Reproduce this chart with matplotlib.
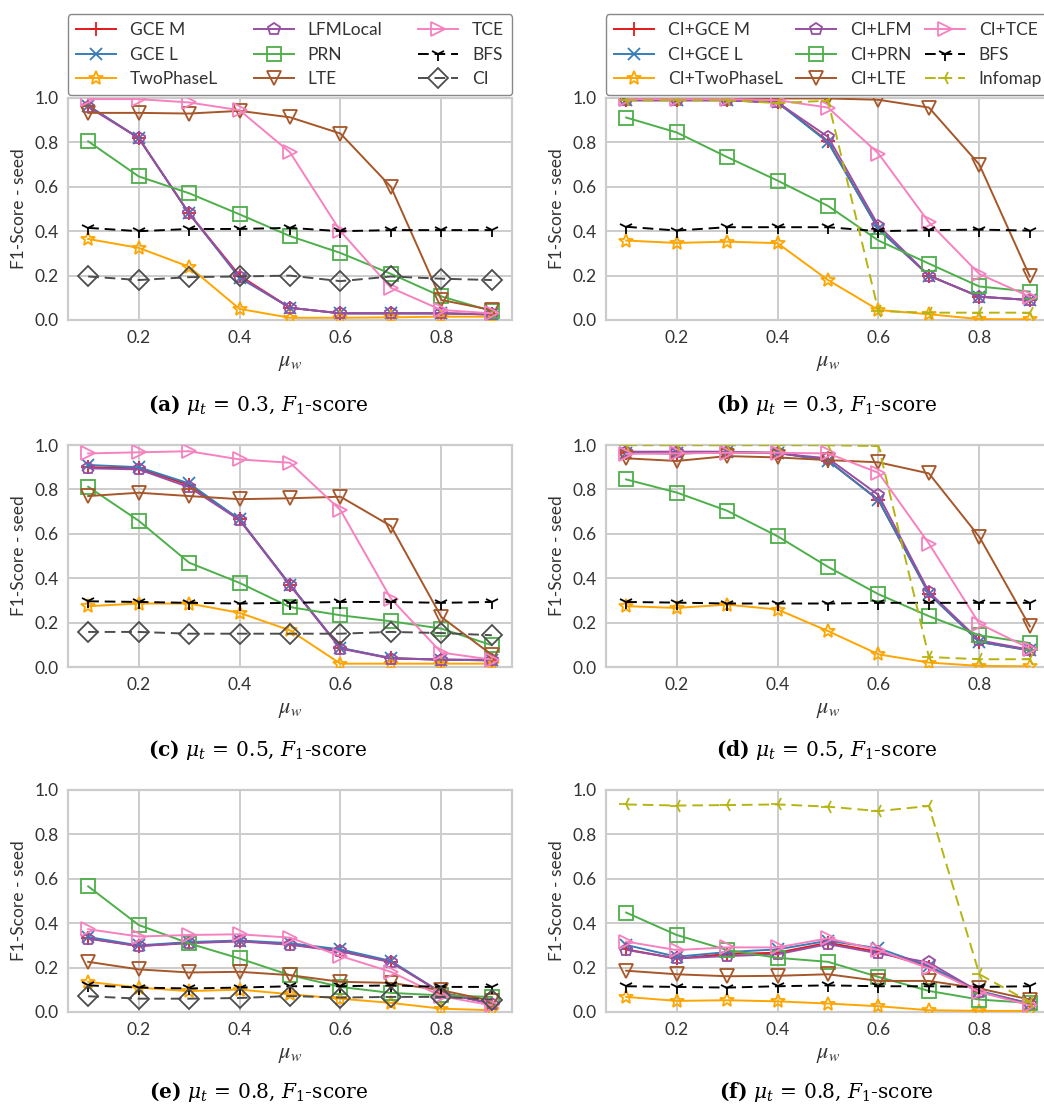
import matplotlib
matplotlib.use("Agg")
import matplotlib.pyplot as plt

plt.rcParams['font.family'] = ['Lato', 'DejaVu Sans']
plt.rcParams['mathtext.fontset'] = 'stix'

mu_w = [0.1, 0.2, 0.3, 0.4, 0.5, 0.6, 0.7, 0.8, 0.9]
x_ticks = [0.2, 0.4, 0.6, 0.8]
y_ticks = [0.0, 0.2, 0.4, 0.6, 0.8, 1.0]

labels_left = ["GCE M", "GCE L", "TwoPhaseL", "LFMLocal", "PRN", "LTE", "TCE", "BFS", "CI"]
labels_right = ["CI+GCE M", "CI+GCE L", "CI+TwoPhaseL", "CI+LFM", "CI+PRN", "CI+LTE", "CI+TCE", "BFS", "Infomap"]
captions = [r"$\mathbf{(a)}$ $\mu_t\,=\,0.3$, $F_1$-score", r"$\mathbf{(b)}$ $\mu_t\,=\,0.3$, $F_1$-score",
            r"$\mathbf{(c)}$ $\mu_t\,=\,0.5$, $F_1$-score", r"$\mathbf{(d)}$ $\mu_t\,=\,0.5$, $F_1$-score",
            r"$\mathbf{(e)}$ $\mu_t\,=\,0.8$, $F_1$-score", r"$\mathbf{(f)}$ $\mu_t\,=\,0.8$, $F_1$-score"]

# Panel (a)
a_gce_m = [0.965, 0.82, 0.48, 0.20, 0.055, 0.03, 0.03, 0.03, 0.025]
a_gce_l = [0.965, 0.82, 0.48, 0.19, 0.055, 0.03, 0.03, 0.03, 0.025]
a_lfm = [0.96, 0.82, 0.48, 0.195, 0.055, 0.03, 0.03, 0.03, 0.025]
a_two = [0.365, 0.325, 0.24, 0.05, 0.01, 0.01, 0.012, 0.015, 0.015]
a_prn = [0.805, 0.647, 0.571, 0.476, 0.378, 0.302, 0.208, 0.106, 0.04]
a_lte = [0.933, 0.933, 0.93, 0.942, 0.913, 0.84, 0.6, 0.09, 0.045]
a_tce = [0.995, 0.995, 0.98, 0.945, 0.755, 0.40, 0.145, 0.045, 0.03]
a_bfs = [0.415, 0.40, 0.41, 0.41, 0.415, 0.40, 0.405, 0.405, 0.405]
a_ci = [0.196, 0.18, 0.193, 0.196, 0.2, 0.175, 0.196, 0.186, 0.18]

# Panel (b)
b_gce_m = [0.99, 0.99, 0.99, 0.98, 0.805, 0.41, 0.2, 0.105, 0.09]
b_gce_l = [0.99, 0.99, 0.99, 0.98, 0.80, 0.41, 0.2, 0.105, 0.09]
b_lfm = [0.99, 0.99, 0.99, 0.98, 0.825, 0.425, 0.2, 0.105, 0.09]
b_two = [0.358, 0.347, 0.353, 0.346, 0.18, 0.045, 0.026, 0.004, 0.003]
b_prn = [0.912, 0.845, 0.734, 0.628, 0.514, 0.358, 0.254, 0.151, 0.128]
b_lte = [0.998, 0.998, 0.998, 0.998, 0.998, 0.992, 0.957, 0.70, 0.196]
b_tce = [0.995, 0.995, 0.995, 0.99, 0.957, 0.75, 0.44, 0.207, 0.105]
b_bfs = [0.42, 0.403, 0.418, 0.418, 0.418, 0.40, 0.405, 0.407, 0.403]
b_info = [0.99, 0.99, 0.99, 0.977, 0.988, 0.04, 0.033, 0.033, 0.033]

# Panel (c)
c_gce_m = [0.90, 0.895, 0.82, 0.665, 0.37, 0.085, 0.04, 0.033, 0.03]
c_gce_l = [0.91, 0.90, 0.827, 0.665, 0.371, 0.086, 0.04, 0.033, 0.03]
c_lfm = [0.895, 0.89, 0.81, 0.662, 0.368, 0.083, 0.038, 0.033, 0.033]
c_two = [0.274, 0.286, 0.286, 0.244, 0.165, 0.015, 0.015, 0.015, 0.015]
c_prn = [0.812, 0.659, 0.47, 0.379, 0.27, 0.233, 0.206, 0.173, 0.098]
c_lte = [0.77, 0.785, 0.77, 0.756, 0.76, 0.767, 0.635, 0.225, 0.055]
c_tce = [0.962, 0.967, 0.972, 0.935, 0.92, 0.707, 0.308, 0.065, 0.033]
c_bfs = [0.296, 0.293, 0.289, 0.286, 0.289, 0.293, 0.293, 0.289, 0.293]
c_ci = [0.158, 0.158, 0.15, 0.15, 0.15, 0.15, 0.158, 0.153, 0.143]

# Panel (d)
d_gce_m = [0.965, 0.962, 0.967, 0.965, 0.93, 0.752, 0.33, 0.113, 0.075]
d_gce_l = [0.965, 0.962, 0.967, 0.965, 0.93, 0.752, 0.33, 0.113, 0.075]
d_lfm = [0.97, 0.97, 0.97, 0.962, 0.94, 0.775, 0.338, 0.12, 0.078]
d_two = [0.274, 0.266, 0.281, 0.259, 0.162, 0.057, 0.02, 0.005, 0.003]
d_prn = [0.845, 0.786, 0.704, 0.589, 0.451, 0.328, 0.229, 0.143, 0.108]
d_lte = [0.94, 0.928, 0.95, 0.944, 0.932, 0.922, 0.872, 0.586, 0.183]
d_tce = [0.96, 0.962, 0.965, 0.965, 0.962, 0.875, 0.556, 0.195, 0.083]
d_bfs = [0.293, 0.29, 0.286, 0.286, 0.286, 0.289, 0.289, 0.289, 0.289]
d_info = [0.999, 0.999, 0.999, 0.999, 0.999, 0.995, 0.045, 0.035, 0.035]

# Panel (e)
e_gce_m = [0.332, 0.297, 0.312, 0.32, 0.305, 0.275, 0.226, 0.087, 0.038]
e_gce_l = [0.338, 0.30, 0.315, 0.322, 0.31, 0.282, 0.23, 0.087, 0.038]
e_lfm = [0.33, 0.297, 0.31, 0.318, 0.303, 0.273, 0.224, 0.087, 0.038]
e_two = [0.136, 0.11, 0.094, 0.101, 0.08, 0.06, 0.041, 0.015, 0.008]
e_prn = [0.566, 0.392, 0.309, 0.241, 0.166, 0.113, 0.086, 0.075, 0.068]
e_lte = [0.226, 0.192, 0.178, 0.181, 0.166, 0.136, 0.131, 0.098, 0.05]
e_tce = [0.373, 0.34, 0.347, 0.35, 0.335, 0.252, 0.181, 0.071, 0.03]
e_bfs = [0.12, 0.11, 0.106, 0.11, 0.116, 0.116, 0.12, 0.113, 0.113]
e_ci = [0.071, 0.06, 0.06, 0.063, 0.072, 0.065, 0.068, 0.068, 0.056]

# Panel (f)
f_gce_m = [0.282, 0.241, 0.261, 0.267, 0.312, 0.271, 0.204, 0.09, 0.038]
f_gce_l = [0.302, 0.249, 0.27, 0.282, 0.321, 0.287, 0.207, 0.095, 0.038]
f_lfm = [0.28, 0.241, 0.252, 0.26, 0.306, 0.264, 0.223, 0.09, 0.038]
f_two = [0.068, 0.05, 0.053, 0.048, 0.038, 0.026, 0.008, 0.005, 0.005]
f_prn = [0.448, 0.347, 0.279, 0.244, 0.226, 0.158, 0.095, 0.056, 0.041]
f_lte = [0.186, 0.17, 0.161, 0.163, 0.17, 0.14, 0.14, 0.106, 0.056]
f_tce = [0.317, 0.279, 0.291, 0.291, 0.332, 0.279, 0.196, 0.09, 0.03]
f_bfs = [0.116, 0.113, 0.11, 0.116, 0.12, 0.116, 0.116, 0.113, 0.116]
f_info = [0.935, 0.93, 0.932, 0.935, 0.925, 0.905, 0.928, 0.17, 0.045]

panels = [
    [a_gce_m, a_gce_l, a_two, a_lfm, a_prn, a_lte, a_tce, a_bfs, a_ci],
    [b_gce_m, b_gce_l, b_two, b_lfm, b_prn, b_lte, b_tce, b_bfs, b_info],
    [c_gce_m, c_gce_l, c_two, c_lfm, c_prn, c_lte, c_tce, c_bfs, c_ci],
    [d_gce_m, d_gce_l, d_two, d_lfm, d_prn, d_lte, d_tce, d_bfs, d_info],
    [e_gce_m, e_gce_l, e_two, e_lfm, e_prn, e_lte, e_tce, e_bfs, e_ci],
    [f_gce_m, f_gce_l, f_two, f_lfm, f_prn, f_lte, f_tce, f_bfs, f_info],
]

LW = 1.4
style_common = [
    dict(color='#e41a1c', marker='+', ms=10, ls='-'),
    dict(color='#377eb8', marker='x', ms=8, ls='-'),
    dict(color='#ffa500', marker='*', ms=10, ls='-'),
    dict(color='#984ea3', marker='p', ms=9, ls='-'),
    dict(color='#4daf4a', marker='s', ms=9.5, ls='-'),
    dict(color='#a65628', marker='v', ms=10, ls='-'),
    dict(color='#f781bf', marker='>', ms=10, ls='-'),
    dict(color='black', marker='1', ms=10, ls='--', dashes=(5.5, 3)),
]
style_ci = dict(color='#4d4d4d', marker='D', ms=10, ls='--', dashes=(5.5, 3))
style_info = dict(color='#b5b512', marker='3', ms=10, ls='--', dashes=(5.5, 3))

W, H = 1044, 1109
fig = plt.figure(figsize=(W / 100, H / 100), dpi=100)

col_x = [68, 606]
row_top = [98, 445, 790]
ax_w, ax_h = 444, 222
cap_x = [258, 826]
cap_y = [405, 750, 1092]
FS = 12.5

grid_c = '#cccccc'
for i in range(6):
    r, c = divmod(i, 2)
    ax = fig.add_axes([col_x[c] / W, 1 - (row_top[r] + ax_h) / H, ax_w / W, ax_h / H])
    ax.set_facecolor('white')
    styles = style_common + [style_ci if c == 0 else style_info]
    labels = labels_left if c == 0 else labels_right
    for k, (ys, st) in enumerate(zip(panels[i], styles)):
        st = dict(st)
        ls = st.pop('ls')
        dashes = st.pop('dashes', None)
        line, = ax.plot(mu_w, ys, linestyle=ls, lw=LW, mfc='none', mew=1.3,
                        label=labels[k], zorder=3, **st)
        if dashes is not None:
            line.set_dashes(dashes)
    ax.set_ylim(0, 1.0)
    ax.set_xlim(0.06, 0.94)
    ax.set_xticks(x_ticks)
    ax.set_yticks(y_ticks)
    ax.set_xticklabels([f"{t:.1f}" for t in x_ticks])
    ax.set_yticklabels([f"{t:.1f}" for t in y_ticks])
    ax.grid(True, color=grid_c, lw=1.4, zorder=0)
    ax.set_axisbelow(True)
    for sp in ax.spines.values():
        sp.set_color(grid_c)
        sp.set_linewidth(1.6)
    ax.tick_params(axis='both', length=0, pad=7, labelsize=FS, labelcolor='#333333')
    ax.set_ylabel("F1-Score - seed", fontsize=FS, color='#333333', labelpad=5)
    ax.set_xlabel(r"$\mu_w$", fontsize=16, color='#333333', labelpad=5)
    fig.text(cap_x[c] / W, 1 - cap_y[r] / H, captions[i], ha='center', va='center',
             fontsize=14.5, family='DejaVu Serif', math_fontfamily='dejavuserif')
    if r == 0:
        leg = ax.legend(ncol=3, loc='lower left', bbox_to_anchor=(0, 1.013, 1, 0.2),
                        mode='expand', fontsize=FS, handlelength=2.3, frameon=True,
                        fancybox=True, framealpha=1, borderaxespad=0, labelspacing=0.5,
                        borderpad=0.45, handletextpad=0.8)
        leg.get_frame().set_edgecolor('#888888')
        leg.get_frame().set_linewidth(1.0)
        for t in leg.get_texts():
            t.set_color('#333333')

fig.savefig("out.png", dpi=100)
